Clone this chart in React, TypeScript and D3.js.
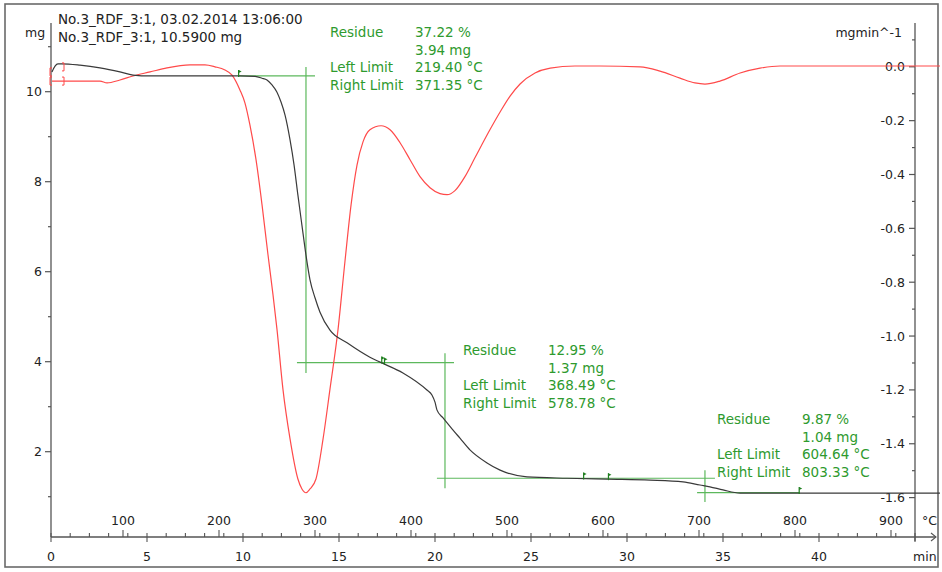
import React from 'react';
import * as d3 from 'd3';

// ---------- data ----------
// TG curve (time in min, mass in mg)
const tgTime = [0.05, 0.21, 0.36, 0.57, 1.51, 2.55, 3.59, 4.27, 5.16, 7.76, 9.84, 10.63, 10.99, 11.25, 11.51, 11.77, 11.98, 12.19, 12.45, 12.66, 12.86, 13.07, 13.28, 13.49, 13.75, 14.01, 14.53, 15.42, 16.61, 17.14, 18.33, 19.58, 19.84, 20.0, 20.1, 20.42, 20.94, 21.3, 21.82, 22.71, 23.39, 24.79, 26.88, 28.96, 31.2, 32.92, 33.8, 34.32, 35.0, 35.89, 46.3];
const tgMass = [10.44, 10.57, 10.62, 10.62, 10.59, 10.53, 10.44, 10.37, 10.35, 10.35, 10.35, 10.34, 10.3, 10.26, 10.15, 9.99, 9.77, 9.48, 8.93, 8.37, 7.7, 7.03, 6.37, 5.82, 5.42, 5.1, 4.7, 4.42, 4.1, 3.99, 3.75, 3.37, 3.26, 3.1, 2.93, 2.75, 2.48, 2.3, 2.04, 1.75, 1.59, 1.44, 1.41, 1.39, 1.37, 1.33, 1.26, 1.22, 1.15, 1.08, 1.08];

// DTG curve (time in min, rate in mg/min)
const dtgTime = [0.05, 2.55, 2.92, 3.59, 4.27, 5.16, 6.04, 7.24, 8.02, 8.54, 9.06, 9.43, 9.84, 10.1, 10.36, 10.68, 10.99, 11.3, 11.56, 11.77, 12.08, 12.45, 12.86, 13.07, 13.28, 13.49, 13.8, 14.17, 14.53, 14.95, 15.31, 15.63, 15.94, 16.25, 16.61, 17.19, 17.66, 18.18, 18.7, 19.22, 19.74, 20.26, 20.63, 21.04, 21.56, 22.08, 22.86, 23.39, 23.91, 24.43, 25.21, 26.0, 27.29, 28.59, 30.68, 31.72, 32.76, 33.54, 34.06, 34.84, 35.89, 36.93, 37.97, 46.3];
const dtgRate = [-0.053, -0.053, -0.06, -0.049, -0.034, -0.019, -0.004, 0.007, 0.007, 0.0, -0.012, -0.031, -0.086, -0.134, -0.216, -0.346, -0.512, -0.697, -0.845, -0.975, -1.197, -1.382, -1.531, -1.568, -1.582, -1.568, -1.531, -1.382, -1.197, -0.975, -0.723, -0.512, -0.364, -0.279, -0.234, -0.219, -0.234, -0.282, -0.345, -0.408, -0.449, -0.471, -0.475, -0.46, -0.408, -0.338, -0.234, -0.168, -0.109, -0.064, -0.023, -0.005, 0.003, 0.003, 0.0, -0.016, -0.042, -0.06, -0.064, -0.053, -0.023, -0.005, 0.003, 0.003];

// axes
const minuteLabels = [0, 5, 10, 15, 20, 25, 30, 35, 40];
const tempLabels = [100, 200, 300, 400, 500, 600, 700, 800, 900];
const massLabels = [2, 4, 6, 8, 10];
const massMinor = [1, 3, 5, 7, 9, 11];
const rateLabels = [0, -0.2, -0.4, -0.6, -0.8, -1.0, -1.2, -1.4, -1.6];
const rateMinor = [0.1, -0.1, -0.3, -0.5, -0.7, -0.9, -1.1, -1.3, -1.5];

const headerLines = ['No.3_RDF_3:1, 03.02.2014 13:06:00', 'No.3_RDF_3:1, 10.5900 mg'];

// step evaluations
const stepResiduePct = ['37.22 %', '12.95 %', '9.87 %'];
const stepResidueMg = ['3.94 mg', '1.37 mg', '1.04 mg'];
const stepLeftLimit = [219.40, 368.49, 604.64];
const stepRightLimit = [371.35, 578.78, 803.33];
// construction lines (levels in mg, times in min)
const levelMass = [10.35, 3.98, 1.41, 1.09];
const levelFrom = [9.74, 12.81, 20.1, 33.65];
const levelTo = [13.75, 20.99, 34.58, 39.0];
const stepTime = [13.28, 20.52, 34.06];
const stepTop = [10.55, 4.19, 1.59];
const stepBottom = [3.75, 1.19, 0.88];

// ---------- layout ----------
const W = 942;
const H = 572;
const FONT = "'DejaVu Sans', Verdana, sans-serif";
const GREEN_TEXT = '#2e9a2e';
const GREEN_LINE = '#5cb85c';
const AXIS = '#555';
const blockPos = [
  { x: 330, y: 37 },
  { x: 463, y: 355 },
  { x: 717, y: 424 },
];
const LINE_H = 17.7;
const VALUE_DX = 85;

export default function App() {
  const x = d3.scaleLinear().domain([0, 45]).range([51, 915]);
  const xT = d3.scaleLinear().domain([25, 925]).range([51, 915]);
  const yL = d3.scaleLinear().domain([0, 11]).range([541.7, 46.7]);
  const yR = d3.scaleLinear().domain([0, -1.6]).range([66.8, 497.6]);

  const tgPath = d3
    .line<number>()
    .x((_, i) => x(tgTime[i]))
    .y((d) => yL(d))
    .curve(d3.curveMonotoneX)(tgMass) as string;
  const dtgPath = d3
    .line<number>()
    .x((_, i) => x(dtgTime[i]))
    .y((d) => yR(d))
    .curve(d3.curveMonotoneX)(dtgRate) as string;

  const tgAt = (t: number) => {
    const i = d3.bisectLeft(tgTime, t);
    if (i <= 0) return tgMass[0];
    if (i >= tgTime.length) return tgMass[tgMass.length - 1];
    const f = (t - tgTime[i - 1]) / (tgTime[i] - tgTime[i - 1]);
    return tgMass[i - 1] + f * (tgMass[i] - tgMass[i - 1]);
  };
  const tempToTime = (T: number) => (xT(T) - 51) / (x(1) - x(0));

  const axisY = 537;
  const minutes = d3.range(0, 46);
  const limits = [...stepLeftLimit, ...stepRightLimit];

  return (
    <svg
      width={W}
      height={H}
      style={{ position: 'absolute', left: 0, top: 0, background: '#fff' }}
      fontFamily={FONT}
    >
      <rect x={0} y={0} width={W} height={H} fill="#fff" />
      <rect x={5} y={4} width={933} height={563} fill="#fff" stroke="#6a6a6a" strokeWidth={1.6} />

      {/* header */}
      {headerLines.map((s, i) => (
        <text key={s} x={58} y={24 + i * 18.3} fontSize={13.5} fill="#222">
          {s}
        </text>
      ))}
      <text x={25} y={37} fontSize={12.5} fill="#222">mg</text>
      <text x={902} y={37} fontSize={12.5} fill="#222" textAnchor="end">mgmin^-1</text>

      {/* left axis */}
      <line x1={51} x2={51} y1={23} y2={axisY} stroke={AXIS} strokeWidth={1.3} />
      {massLabels.map((v) => (
        <g key={'ml' + v}>
          <line x1={45} x2={51} y1={yL(v)} y2={yL(v)} stroke={AXIS} strokeWidth={1.2} />
          <text x={42} y={yL(v)} dy="0.36em" fontSize={12.5} textAnchor="end" fill="#222">
            {v}
          </text>
        </g>
      ))}
      {massMinor.map((v) => (
        <line key={'mm' + v} x1={48} x2={51} y1={yL(v)} y2={yL(v)} stroke={AXIS} strokeWidth={1.2} />
      ))}

      {/* right axis */}
      <line x1={915} x2={915} y1={23} y2={541} stroke={AXIS} strokeWidth={1.3} />
      {rateLabels.map((v) => (
        <g key={'rl' + v}>
          <line x1={909} x2={915} y1={yR(v)} y2={yR(v)} stroke={AXIS} strokeWidth={1.2} />
          <text x={905} y={yR(v)} dy="0.36em" fontSize={12.5} textAnchor="end" fill="#222">
            {v.toFixed(1)}
          </text>
        </g>
      ))}
      {rateMinor.map((v) => (
        <line key={'rm' + v} x1={912} x2={915} y1={yR(v)} y2={yR(v)} stroke={AXIS} strokeWidth={1.2} />
      ))}

      {/* bottom axis */}
      <line x1={51} x2={936} y1={axisY} y2={axisY} stroke={AXIS} strokeWidth={1.3} />
      <path d={`M931,${axisY - 4} L936,${axisY} L931,${axisY + 4}`} fill="none" stroke={AXIS} strokeWidth={1.1} />
      {minutes.map((m) => (
        <line
          key={'mt' + m}
          x1={x(m)}
          x2={x(m)}
          y1={axisY - 4}
          y2={m % 5 === 0 ? axisY + 5 : axisY}
          stroke={AXIS}
          strokeWidth={1.1}
        />
      ))}
      {minuteLabels.map((m) => (
        <text key={'mlab' + m} x={x(m)} y={561} fontSize={12.5} textAnchor="middle" fill="#222">
          {m}
        </text>
      ))}
      {tempLabels.map((T) => (
        <g key={'tl' + T}>
          <line x1={xT(T)} x2={xT(T)} y1={axisY - 7} y2={axisY} stroke={AXIS} strokeWidth={1.1} />
          <text x={xT(T)} y={524.5} fontSize={12.5} textAnchor="middle" fill="#222">
            {T}
          </text>
        </g>
      ))}
      <text x={922} y={524.5} fontSize={12.5} fill="#222">°C</text>
      <text x={913} y={561} fontSize={12.5} fill="#222">min</text>

      {/* construction lines */}
      {levelMass.map((m, i) => (
        <line
          key={'lv' + i}
          x1={x(levelFrom[i])}
          x2={x(levelTo[i])}
          y1={yL(m)}
          y2={yL(m)}
          stroke={GREEN_LINE}
          strokeWidth={1.2}
        />
      ))}
      {stepTime.map((t, i) => (
        <line
          key={'st' + i}
          x1={x(t)}
          x2={x(t)}
          y1={yL(stepTop[i])}
          y2={yL(stepBottom[i])}
          stroke={GREEN_LINE}
          strokeWidth={1.2}
        />
      ))}

      {/* curves */}
      <path d={dtgPath} fill="none" stroke="#ff4a4a" strokeWidth={1.2} />
      <path d={tgPath} fill="none" stroke="#3a3a3a" strokeWidth={1.2} />

      {/* start brackets */}
      {[tgMass[0], null].map((_, k) => {
        const yy = k === 0 ? yL(tgMass[0]) : yR(dtgRate[0]);
        return (
          <g key={'br' + k} stroke="#ff4a4a" strokeWidth={1} fill="none">
            <path d={`M52,${yy - 4} L50,${yy - 4} L50,${yy + 4} L52,${yy + 4}`} />
            <path d={`M62,${yy - (k === 0 ? 9 : 4)} L64,${yy - (k === 0 ? 9 : 4)} L64,${yy - (k === 0 ? 1 : -4)} L62,${yy - (k === 0 ? 1 : -4)}`} />
          </g>
        );
      })}

      {/* limit flags */}
      {limits.map((T, i) => {
        const t = tempToTime(T);
        const px = x(t);
        const py = yL(tgAt(t));
        return (
          <g key={'fl' + i}>
            <line x1={px + 1} x2={px + 1} y1={py - 6} y2={py + 1} stroke="#1f7f1f" strokeWidth={1.2} />
            <path d={`M${px + 1},${py - 6} L${px + 4},${py - 4.5} L${px + 1},${py - 3} Z`} fill="#1f7f1f" />
          </g>
        );
      })}

      {/* step annotation texts */}
      {blockPos.map((p, i) => {
        const rows: [string, string][] = [
          ['Residue', stepResiduePct[i]],
          ['', stepResidueMg[i]],
          ['Left Limit', `${stepLeftLimit[i].toFixed(2)} °C`],
          ['Right Limit', `${stepRightLimit[i].toFixed(2)} °C`],
        ];
        return (
          <g key={'blk' + i} fontSize={13.5} fill={GREEN_TEXT}>
            {rows.map((r, j) => (
              <g key={j}>
                {r[0] && (
                  <text x={p.x} y={p.y + j * LINE_H}>
                    {r[0]}
                  </text>
                )}
                <text x={p.x + VALUE_DX} y={p.y + j * LINE_H}>
                  {r[1]}
                </text>
              </g>
            ))}
          </g>
        );
      })}
    </svg>
  );
}
